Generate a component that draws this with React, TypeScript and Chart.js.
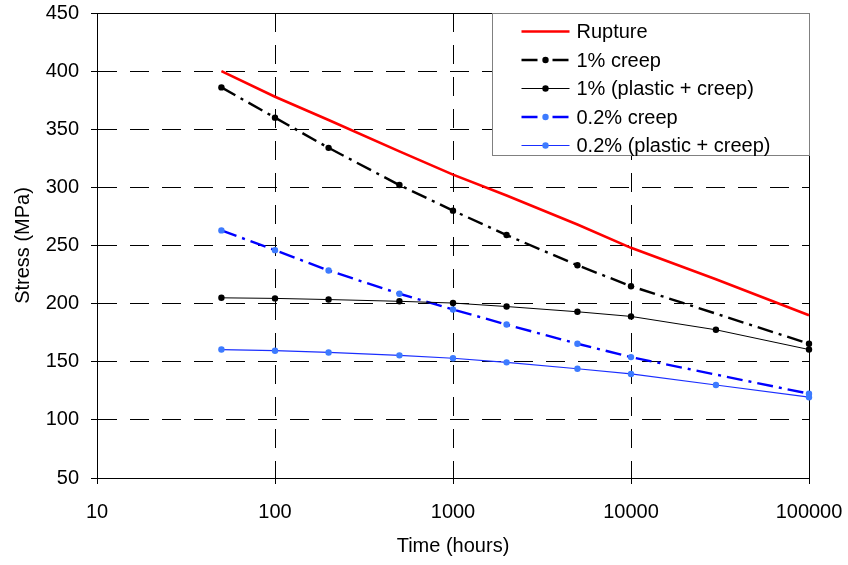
import React, { useEffect, useRef } from 'react';
import { Chart, registerables } from 'chart.js';

Chart.register(...registerables);

// ---- data ----
const timeRupture = [50, 100, 200, 500, 1000, 2000, 5000, 10000, 30000, 100000];
const stressRupture = [400, 378, 358, 331, 311, 293, 268, 248, 221, 190];

const timeCreep = [50, 100, 200, 500, 1000, 2000, 5000, 10000, 100000];
const stressCreep1 = [386, 360, 334, 302, 280, 259, 233, 215, 165.5];
const stressCreep02 = [263, 246, 228.5, 208.5, 195, 182, 165.5, 154, 122.5];

const timePlastic = [50, 100, 200, 500, 1000, 2000, 5000, 10000, 30000, 100000];
const stressPlastic1 = [205, 204.5, 203.5, 202, 200.5, 197.5, 193, 189, 177.5, 160.5];
const stressPlastic02 = [160.5, 159.5, 158, 155.5, 153, 149.5, 144, 139.5, 130, 119.5];

const seriesLabels = ['Rupture', '1% creep', '1% (plastic + creep)', '0.2% creep', '0.2% (plastic + creep)'];
const xTickValues = [10, 100, 1000, 10000, 100000];
const yMin = 50;
const yMax = 450;
const yStep = 50;

const FONT_FAMILY = "'Liberation Sans', Arial, Helvetica, sans-serif";

const toXY = (xs: number[], ys: number[]) => xs.map((x, i) => ({ x, y: ys[i] }));

const framePlugin = {
  id: 'frame',
  beforeDatasetsDraw(chart: any) {
    const { ctx, chartArea } = chart;
    const { left, top, right, bottom } = chartArea;
    ctx.save();
    ctx.strokeStyle = '#000';
    ctx.lineWidth = 1;
    ctx.setLineDash([]);
    ctx.beginPath();
    ctx.moveTo(Math.round(left) + 0.5, Math.round(top) + 0.5);
    ctx.lineTo(Math.round(right) + 0.5, Math.round(top) + 0.5);
    ctx.lineTo(Math.round(right) + 0.5, Math.round(bottom) + 0.5);
    ctx.stroke();
    ctx.restore();
  },
};

const legendPlugin = {
  id: 'insideLegend',
  afterDraw(chart: any) {
    const { ctx, chartArea } = chart;
    const boxW = 317;
    const boxH = 142;
    const bx = Math.round(chartArea.right - boxW) + 0.5;
    const by = Math.round(chartArea.top) + 0.5;
    ctx.save();
    ctx.fillStyle = '#fff';
    ctx.fillRect(bx, by, boxW, boxH);
    ctx.strokeStyle = '#808080';
    ctx.lineWidth = 1;
    ctx.setLineDash([]);
    ctx.strokeRect(bx, by, boxW, boxH);
    ctx.font = `20px ${FONT_FAMILY}`;
    ctx.textBaseline = 'middle';
    ctx.textAlign = 'left';
    chart.data.datasets.forEach((ds: any, i: number) => {
      const cy = by + 18 + i * 28.5;
      const x1 = bx + 29;
      const x2 = bx + 77;
      ctx.save();
      ctx.strokeStyle = ds.borderColor;
      ctx.lineWidth = ds.borderWidth;
      ctx.setLineDash(ds.borderDash || []);
      ctx.lineCap = 'butt';
      ctx.beginPath();
      ctx.moveTo(x1, cy);
      ctx.lineTo(x2, cy);
      ctx.stroke();
      if (ds.pointRadius > 0) {
        ctx.setLineDash([]);
        ctx.fillStyle = ds.pointBackgroundColor;
        ctx.beginPath();
        ctx.arc((x1 + x2) / 2, cy, ds.pointRadius, 0, Math.PI * 2);
        ctx.fill();
      }
      ctx.restore();
      ctx.fillStyle = '#000';
      ctx.fillText(ds.label, bx + 84, cy + 1);
    });
    ctx.restore();
  },
};

export default function App() {
  const ref = useRef<HTMLCanvasElement>(null);

  useEffect(() => {
    const canvas = ref.current;
    if (!canvas) return;
    const font = { family: FONT_FAMILY, size: 20 };
    const gridCommon = {
      color: '#000',
      lineWidth: 1,
      drawTicks: true,
      tickLength: 6,
      tickColor: '#000',
      tickWidth: 1,
      tickBorderDash: [50, 0],
    };
    const borderCommon = { display: true, color: '#000', width: 1, dash: [19, 13], dashOffset: 0 };
    const chart = new Chart(canvas, {
      type: 'line',
      data: {
        datasets: [
          {
            label: seriesLabels[0],
            data: toXY(timeRupture, stressRupture),
            borderColor: '#FF0000',
            backgroundColor: '#FF0000',
            borderWidth: 2.6,
            pointRadius: 0,
            tension: 0,
            clip: false as any,
          },
          {
            label: seriesLabels[1],
            data: toXY(timeCreep, stressCreep1),
            borderColor: '#000000',
            backgroundColor: '#000000',
            borderWidth: 2.4,
            borderDash: [16, 6, 3, 6],
            pointRadius: 3.2,
            pointBackgroundColor: '#000000',
            pointBorderWidth: 0,
            tension: 0,
            clip: false as any,
          },
          {
            label: seriesLabels[2],
            data: toXY(timePlastic, stressPlastic1),
            borderColor: '#000000',
            backgroundColor: '#000000',
            borderWidth: 1,
            pointRadius: 3.2,
            pointBackgroundColor: '#000000',
            pointBorderWidth: 0,
            tension: 0,
            clip: false as any,
          },
          {
            label: seriesLabels[3],
            data: toXY(timeCreep, stressCreep02),
            borderColor: '#0000FF',
            backgroundColor: '#3D7BFF',
            borderWidth: 2.4,
            borderDash: [16, 6, 3, 6],
            pointRadius: 3.2,
            pointBackgroundColor: '#3D7BFF',
            pointBorderWidth: 0,
            tension: 0,
            clip: false as any,
          },
          {
            label: seriesLabels[4],
            data: toXY(timePlastic, stressPlastic02),
            borderColor: '#1A2EFF',
            backgroundColor: '#3D7BFF',
            borderWidth: 1.2,
            pointRadius: 3.2,
            pointBackgroundColor: '#3D7BFF',
            pointBorderWidth: 0,
            tension: 0,
            clip: false as any,
          },
        ],
      },
      options: {
        responsive: false,
        animation: false,
        devicePixelRatio: 1,
        layout: { padding: { left: 0, top: 13, right: 39, bottom: 0 } },
        plugins: {
          legend: { display: false },
          tooltip: { enabled: false },
        },
        scales: {
          x: {
            type: 'logarithmic',
            min: 10,
            max: 100000,
            afterBuildTicks: (s: any) => {
              s.ticks = xTickValues.map((v) => ({ value: v }));
            },
            afterFit: (s: any) => {
              s.height = 87;
              s.paddingLeft = 0;
              s.paddingRight = 0;
            },
            ticks: {
              font,
              color: '#000',
              padding: 16,
              maxRotation: 0,
              autoSkip: false,
              callback: (v: any) => String(v),
            },
            grid: gridCommon,
            border: borderCommon,
            title: {
              display: true,
              text: 'Time (hours)',
              font,
              color: '#000',
              padding: { top: 0, bottom: 7 },
            },
          },
          y: {
            type: 'linear',
            min: yMin,
            max: yMax,
            afterFit: (s: any) => {
              s.width = 97;
              s.paddingTop = 0;
              s.paddingBottom = 0;
            },
            ticks: {
              stepSize: yStep,
              font,
              color: '#000',
              padding: 12,
            },
            grid: gridCommon,
            border: borderCommon,
            title: {
              display: true,
              text: 'Stress (MPa)',
              font,
              color: '#000',
              padding: { top: 11, bottom: 0 },
            },
          },
        },
      } as any,
      plugins: [framePlugin, legendPlugin],
    });
    return () => chart.destroy();
  }, []);

  return (
    <div style={{ position: 'absolute', left: 0, top: 0, width: 848, height: 565, background: '#fff' }}>
      <canvas ref={ref} width={848} height={565} style={{ display: 'block', width: 848, height: 565 }} />
    </div>
  );
}
